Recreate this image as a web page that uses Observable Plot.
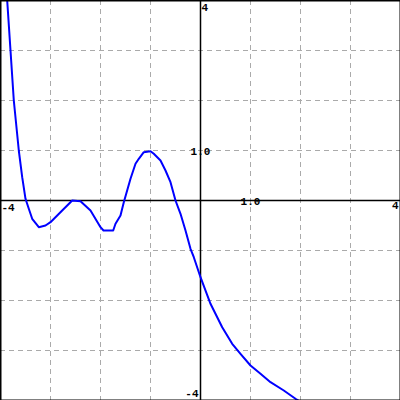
<!DOCTYPE html>
<html>
<head>
<meta charset="utf-8">
<script src="https://cdn.jsdelivr.net/npm/d3@7"></script>
<script src="https://cdn.jsdelivr.net/npm/@observablehq/plot@0.6"></script>
<style>
  html, body { margin: 0; padding: 0; background: #fff; }
  svg { display: block; }
</style>
</head>
<body>
<div id="chart"></div>
<script>
// Curve samples
const curveX = [-3.866, -3.8, -3.734, -3.634, -3.566, -3.5, -3.434, -3.366, -3.234, -3.1, -3.0, -2.766, -2.566, -2.4, -2.2, -2.0, -1.94, -1.746, -1.7, -1.6, -1.534, -1.4, -1.3, -1.234, -1.134, -1.0, -0.934, -0.8, -0.7, -0.6, -0.5, -0.4, -0.3, -0.2, -0.134, 0.0, 0.2, 0.434, 0.634, 0.8, 1.0, 1.2, 1.4, 1.666, 1.9, 1.96];
const curveY = [4.0, 3.0, 2.0, 1.0, 0.466, 0.034, -0.166, -0.366, -0.534, -0.5, -0.434, -0.2, 0.0, -0.014, -0.2, -0.534, -0.6, -0.6, -0.466, -0.3, -0.034, 0.434, 0.734, 0.834, 0.966, 0.986, 0.934, 0.8, 0.6, 0.366, 0.0, -0.266, -0.6, -0.966, -1.134, -1.534, -2.066, -2.534, -2.866, -3.066, -3.3, -3.466, -3.634, -3.8, -3.966, -4.0];

// Grid and axis values
const gridValues = [-3, -2, -1, 1, 2, 3];
const domainX = [-4, 4];
const domainY = [-4, 4];

// Tick labels
const labelTop = {x: 0, y: 4, text: "4"};
const labelYOne = {x: 0, y: 1, text: "1.0"};
const labelXOne = {x: 1, y: 0, text: "1.0"};
const labelLeft = {x: -4, y: 0, text: "-4"};
const labelRight = {x: 4, y: 0, text: "4"};
const labelBottom = {x: 0, y: -4, text: "-4"};

const curve = curveX.map((x, i) => ({x, y: curveY[i]}));
const font = {fontFamily: "Liberation Mono", fontSize: 11, fontWeight: "bold", fill: "black"};

const chart = Plot.plot({
  width: 400,
  height: 400,
  margin: 0,
  x: {domain: domainX, axis: null},
  y: {domain: domainY, axis: null},
  marks: [
    Plot.ruleX(gridValues, {stroke: "#aaaaaa", strokeWidth: 1, strokeDasharray: "5,4"}),
    Plot.ruleY(gridValues, {stroke: "#aaaaaa", strokeWidth: 1, strokeDasharray: "5,4"}),
    Plot.ruleX([0], {stroke: "black", strokeWidth: 1.5}),
    Plot.ruleY([0], {stroke: "black", strokeWidth: 1.5}),
    Plot.line(curve, {x: "x", y: "y", stroke: "#0000ff", strokeWidth: 2}),
    Plot.frame({stroke: "black", strokeWidth: 2}),
    Plot.text([labelTop], {x: "x", y: "y", text: "text", textAnchor: "start", dx: 1, dy: 7, ...font}),
    Plot.text([labelYOne], {x: "x", y: "y", text: "text", textAnchor: "middle", dy: 1, ...font}),
    Plot.text([labelXOne], {x: "x", y: "y", text: "text", textAnchor: "middle", dy: 1, ...font}),
    Plot.text([labelLeft], {x: "x", y: "y", text: "text", textAnchor: "start", dx: 1, dy: 7, ...font}),
    Plot.text([labelRight], {x: "x", y: "y", text: "text", textAnchor: "end", dx: -2, dy: 5, ...font}),
    Plot.text([labelBottom], {x: "x", y: "y", text: "text", textAnchor: "end", dx: -2, dy: -7, ...font})
  ]
});
document.getElementById("chart").appendChild(chart);
</script>
</body>
</html>
